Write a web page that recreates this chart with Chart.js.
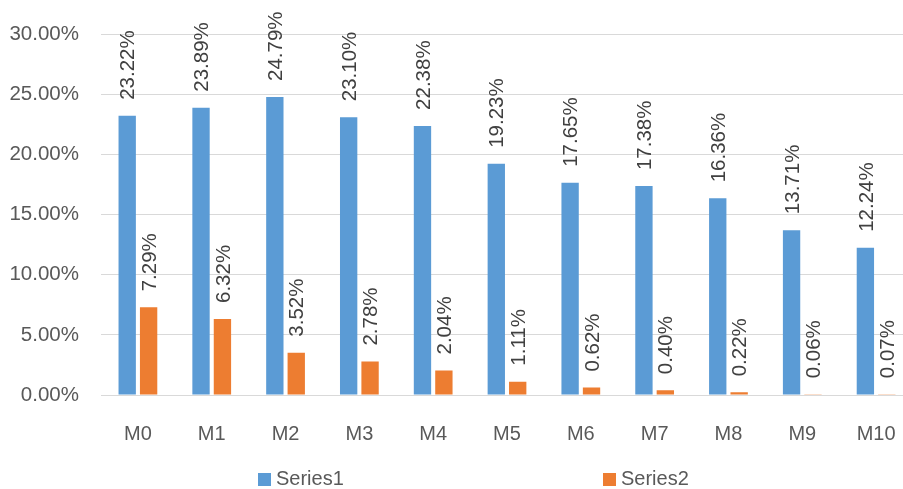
<!DOCTYPE html>
<html>
<head>
<meta charset="utf-8">
<script src="https://cdn.jsdelivr.net/npm/chart.js@4.4.1/dist/chart.umd.min.js"></script>
<style>
  html, body { margin: 0; padding: 0; background: #fff; overflow: hidden; }
  canvas { display: block; }
</style>
</head>
<body>
<canvas id="bars" width="913" height="489"></canvas>
<script>
const categories = ['M0','M1','M2','M3','M4','M5','M6','M7','M8','M9','M10'];
const series1 = [23.22, 23.89, 24.79, 23.10, 22.38, 19.23, 17.65, 17.38, 16.36, 13.71, 12.24];
const series2 = [7.29, 6.32, 3.52, 2.78, 2.04, 1.11, 0.62, 0.40, 0.22, 0.06, 0.07];
const seriesNames = ['Series1', 'Series2'];
const yTicks = { min: 0, max: 30, step: 5 };

const FONT = "'Liberation Sans', Arial, sans-serif";
const pct = v => v.toFixed(2) + '%';

// value labels written vertically above each bar
const barLabels = {
  id: 'barLabels',
  afterDatasetsDraw(chart) {
    const ctx = chart.ctx;
    ctx.save();
    ctx.font = '20.5px ' + FONT;
    ctx.fillStyle = '#404040';
    ctx.textAlign = 'left';
    ctx.textBaseline = 'middle';
    chart.data.datasets.forEach((ds, i) => {
      chart.getDatasetMeta(i).data.forEach((bar, j) => {
        ctx.save();
        ctx.translate(bar.x + 1.5, bar.y - 16);
        ctx.rotate(-Math.PI / 2);
        ctx.fillText(pct(ds.data[j]), 0, 0);
        ctx.restore();
      });
    });
    ctx.restore();
  }
};

// legend spread across the bottom
const spreadLegend = {
  id: 'spreadLegend',
  afterDraw(chart) {
    const ctx = chart.ctx;
    const xs = [258, 603];
    const y = 479;
    ctx.save();
    ctx.font = '20px ' + FONT;
    ctx.textBaseline = 'middle';
    chart.data.datasets.forEach((ds, i) => {
      ctx.fillStyle = ds.backgroundColor;
      ctx.fillRect(xs[i], y - 6, 13, 13);
      ctx.fillStyle = '#595959';
      ctx.fillText(ds.label, xs[i] + 18, y);
    });
    ctx.restore();
  }
};

new Chart('bars', {
  type: 'bar',
  data: {
    labels: categories,
    datasets: [
      { label: seriesNames[0], data: series1, backgroundColor: '#5B9BD5' },
      { label: seriesNames[1], data: series2, backgroundColor: '#ED7D31' }
    ]
  },
  options: {
    responsive: false,
    animation: false,
    layout: { padding: { top: 32, right: 0, bottom: 44, left: 0 } },
    datasets: { bar: { categoryPercentage: 0.58, barPercentage: 0.81 } },
    plugins: {
      legend: { display: false },
      tooltip: { enabled: false }
    },
    scales: {
      x: {
        grid: { display: false, drawTicks: false },
        border: { color: '#d9d9d9', width: 1 },
        ticks: { color: '#595959', font: { family: FONT, size: 20 }, padding: 27 },
        afterFit(s) {
          s.height = 50;
          s.paddingLeft = 0;
          s.paddingRight = 0;
        }
      },
      y: {
        min: yTicks.min,
        max: yTicks.max,
        grid: { color: '#d9d9d9', lineWidth: 1, drawTicks: false },
        border: { display: false },
        ticks: {
          stepSize: yTicks.step,
          color: '#595959',
          font: { family: FONT, size: 20.5 },
          padding: 22,
          callback: v => pct(v)
        },
        afterFit(s) { s.width = 101; }
      }
    }
  },
  plugins: [barLabels, spreadLegend]
});
</script>
</body>
</html>
